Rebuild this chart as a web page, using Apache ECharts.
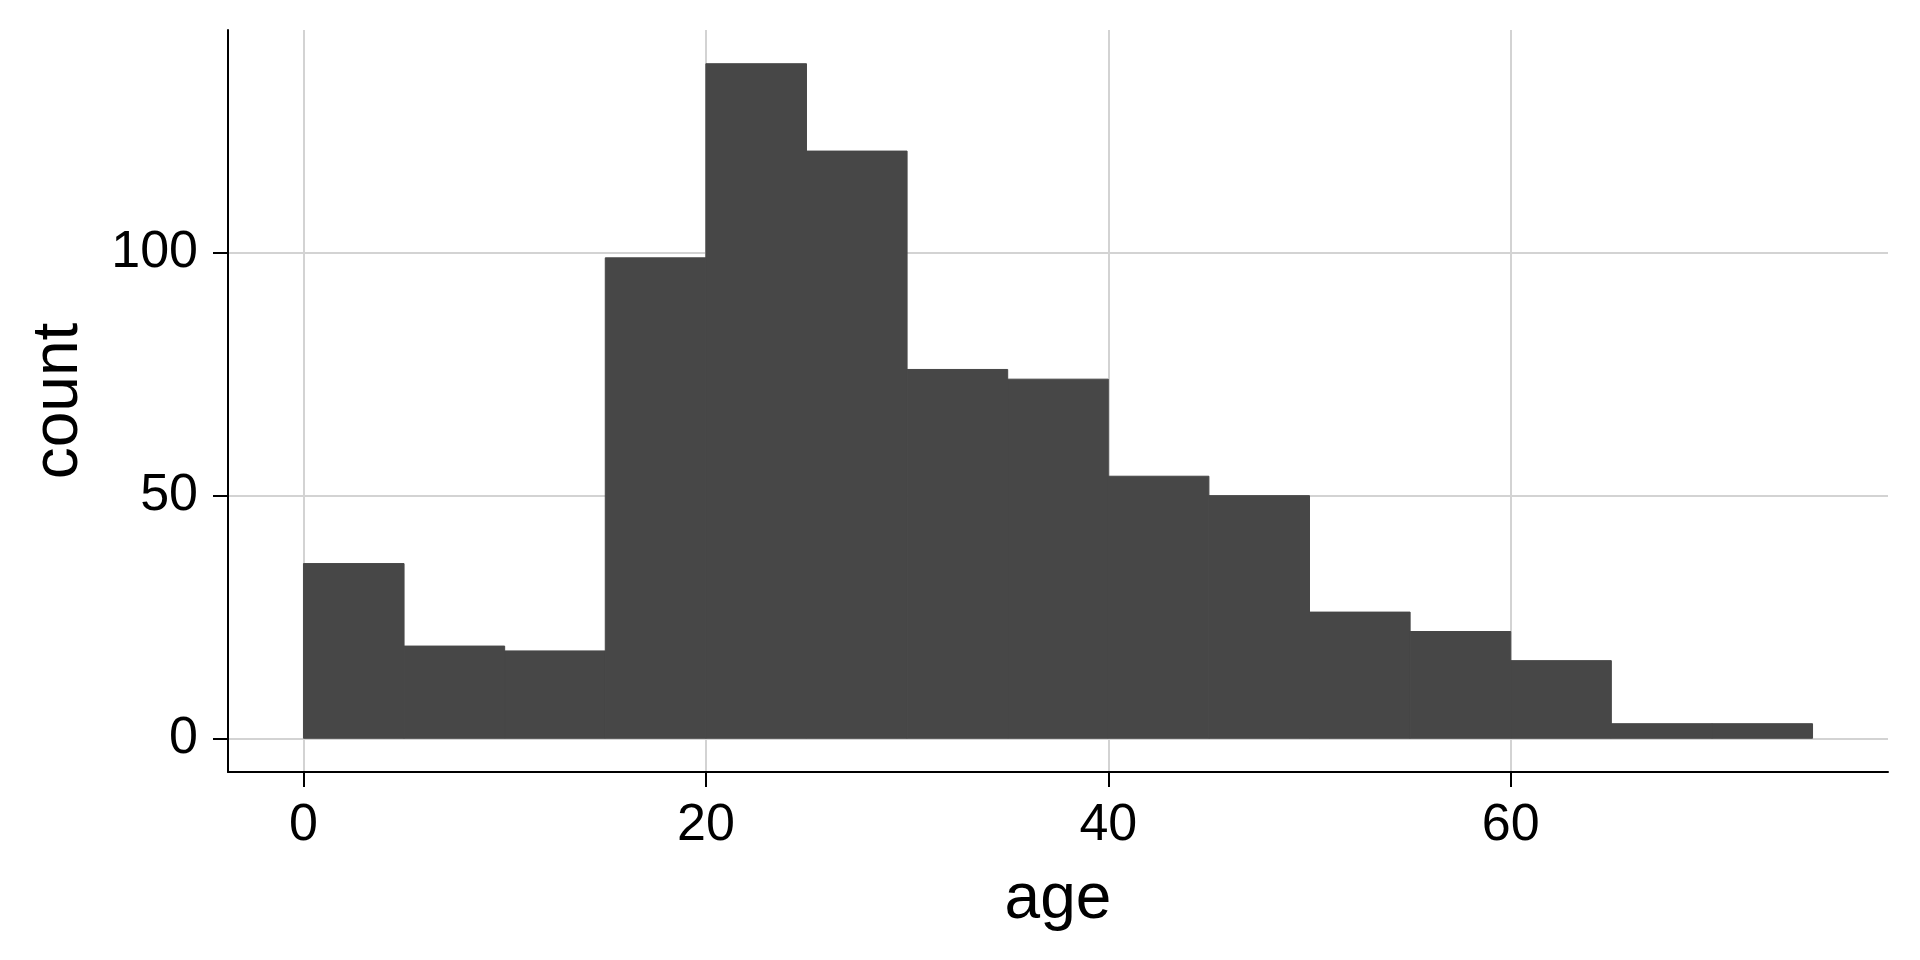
<!DOCTYPE html>
<html>
<head>
<meta charset="utf-8">
<title>age histogram</title>
<script src="https://cdn.jsdelivr.net/npm/echarts@6/dist/echarts.min.js"></script>
<style>
  html, body { margin: 0; padding: 0; background: #fff; }
  #chart { width: 1920px; height: 960px; }
</style>
</head>
<body>
<div id="chart"></div>
<script>
// bin edges (age) and counts per bin
const binEdges = [0, 5, 10, 15, 20, 25, 30, 35, 40, 45, 50, 55, 60, 65, 70, 75];
const counts = [36, 19, 18, 99, 139, 121, 76, 74, 54, 50, 26, 22, 16, 3, 3];
const xTicks = [0, 20, 40, 60];
const yTicks = [0, 50, 100];

const chart = echarts.init(document.getElementById("chart"), null, { renderer: "canvas" });

const bins = counts.map((c, i) => [binEdges[i], binEdges[i + 1], c]);

// ggplot-style 5% expansion around the data
const xSpan = binEdges[binEdges.length - 1] - binEdges[0];
const yMax = Math.max(...counts);

const axisFont = { fontFamily: "Liberation Sans", color: "#000" };
const barColor = "#474747";

const option = {
  animation: false,
  grid: { left: 228, right: 32, top: 30, bottom: 188, containLabel: false, outerBoundsMode: "none" },
  xAxis: {
    type: "value",
    min: binEdges[0] - xSpan * 0.05,
    max: binEdges[binEdges.length - 1] + xSpan * 0.05,
    name: "age",
    nameLocation: "middle",
    nameGap: 96,
    nameTextStyle: { ...axisFont, fontSize: 64 },
    axisLine: { onZero: false, lineStyle: { color: "#000", width: 2 } },
    axisTick: { customValues: xTicks, length: 15, lineStyle: { color: "#000", width: 2 } },
    axisLabel: { customValues: xTicks, ...axisFont, fontSize: 52, margin: 28 },
    splitLine: { show: true, lineStyle: { color: "#d3d3d3", width: 2 } },
  },
  yAxis: {
    type: "value",
    min: -yMax * 0.05,
    max: yMax * 1.05,
    name: "count",
    nameLocation: "middle",
    nameGap: 137,
    nameTextStyle: { ...axisFont, fontSize: 64 },
    axisLine: { show: true, onZero: false, lineStyle: { color: "#000", width: 2 } },
    axisTick: { show: true, customValues: yTicks, length: 15, lineStyle: { color: "#000", width: 2 } },
    axisLabel: { customValues: yTicks, ...axisFont, fontSize: 52, margin: 30 },
    splitLine: { show: true, lineStyle: { color: "#d3d3d3", width: 2 } },
  },
  series: [
    {
      type: "custom",
      data: bins,
      encode: { x: [0, 1], y: 2 },
      renderItem: (params, api) => {
        const topLeft = api.coord([api.value(0), api.value(2)]);
        const bottomRight = api.coord([api.value(1), 0]);
        return {
          type: "rect",
          shape: {
            x: topLeft[0],
            y: topLeft[1],
            width: bottomRight[0] - topLeft[0],
            height: bottomRight[1] - topLeft[1],
          },
          // thin stroke in the fill colour hides seams between adjacent bins
          style: { fill: barColor, stroke: barColor, lineWidth: 1 },
        };
      },
    },
  ],
};

chart.setOption(option);

window.addEventListener("resize", () => chart.resize());
</script>
</body>
</html>
